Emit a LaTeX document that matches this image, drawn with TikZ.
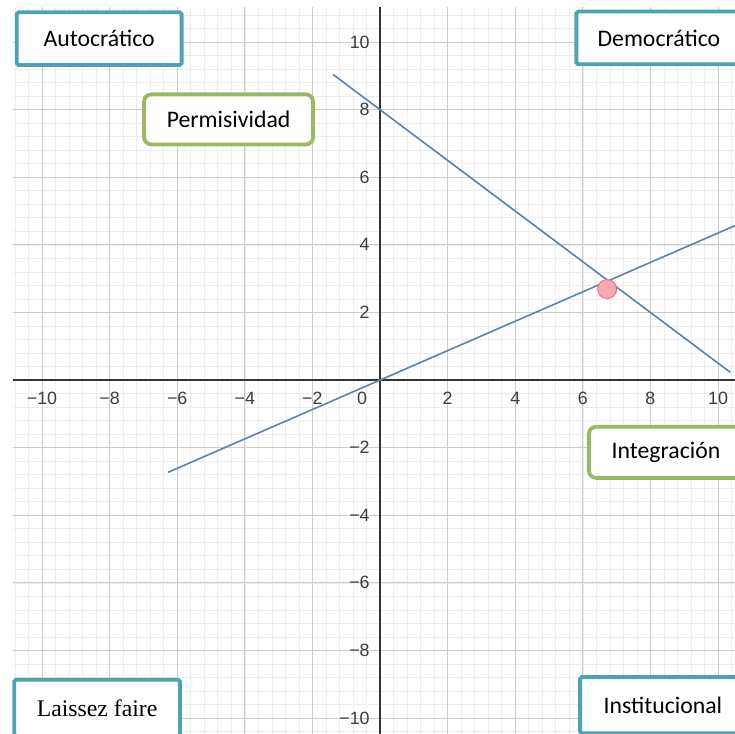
\documentclass[tikz,border=0pt]{standalone}
\usepackage{fontspec}
\setmainfont{Carlito}
\newfontfamily\serifbox{Liberation Serif}
\newfontfamily\tickfont{Liberation Sans}
\usepackage{xcolor}
\definecolor{GridMinor}{HTML}{EDEDED}
\definecolor{GridMajor}{HTML}{CDCDCD}
\definecolor{AxisInk}{HTML}{333333}
\definecolor{TickInk}{HTML}{3C3C3C}
\definecolor{CurveBlue}{HTML}{6186AC}
\definecolor{FrameTeal}{HTML}{4DA3B1}
\definecolor{FrameGreen}{HTML}{9CB862}
\definecolor{DotPink}{HTML}{F6A9AF}
\definecolor{DotRed}{HTML}{DE7682}
\usetikzlibrary{positioning}

\begin{document}
\begin{tikzpicture}[
  quad/.style={rectangle, rounded corners=1.5pt, draw=FrameTeal, line width=3.2pt, fill=white,
               minimum width=4.88cm, minimum height=1.56cm, align=center,
               font=\fontsize{20}{22}\selectfont},
  trait/.style={rectangle, rounded corners=6pt, draw=FrameGreen, line width=3.2pt, fill=white,
                minimum height=1.48cm, align=center, font=\fontsize{20}{22}\selectfont},
  curve/.style={CurveBlue, line width=1.4pt},
  xtick/.style={font=\tickfont\fontsize{15}{15}\selectfont, text=TickInk, inner sep=0pt},
  ytick/.style={xtick, anchor=east}
]

%% ---- frame of the picture ----
\useasboundingbox (-11.243,-10.473) rectangle (10.503,11.243);
\clip (-11.243,-10.473) rectangle (10.503,11.243);

%% ---- grid and axes ----
\draw[GridMinor, line width=0.5pt] (-10.86,-10.6) grid[step=0.4] (10.6,11.04);
\draw[GridMajor, line width=0.8pt] (-10.86,-10.6) grid[step=2] (10.6,11.04);
\coordinate (xl) at (-10.86,0);
\coordinate (xr) at (10.6,0);
\coordinate (yb) at (0,-10.6);
\coordinate (yt) at (0,11.04);
\draw[AxisInk, line width=1.3pt] (xl) -- (xr);
\draw[AxisInk, line width=1.3pt] (yb) -- (yt);

%% ---- tick labels ----
\foreach \k in {-10,-8,-6,-4,-2,2,4,6,8,10}{
  \pgfmathtruncatemacro\absk{abs(\k)}
  \node[xtick] (xt\k) at (\k,-0.53) {\ifnum\k<0 −\fi\absk};
  \node[ytick] (yt\k) at (-0.3,\k) {\ifnum\k<0 −\fi\absk};
}
\node[xtick] (zero) at (-0.53,-0.53) {0};

%% ---- the two lines and where they meet ----
\coordinate (fallA) at (-1.39,9.04);
\coordinate (fallB) at (10.36,0.23);
\coordinate (riseA) at (-6.27,-2.73);
\coordinate (riseB) at (10.6,4.61);
\draw[curve] (fallA) -- (fallB);
\draw[curve] (riseA) -- (riseB);
\node[circle, fill=DotPink, draw=DotRed, line width=0.8pt, minimum size=0.56cm, inner sep=0pt]
  (meet) at (6.72,2.69) {};

%% ---- corner styles (teal) ----
\node[quad] (autocratico) at (-8.31,10.10) {Autocrático};
\node[quad] (democratico) at (8.25,10.12) {Democrático};
\node[quad, minimum width=4.9cm, minimum height=1.66cm, font=\serifbox\fontsize{20}{22}\selectfont]
  (laissez) at (-8.37,-9.70) {Laissez faire};
\node[quad, minimum width=4.9cm, minimum height=1.66cm] (institucional) at (8.37,-9.62) {Institucional};

%% ---- traits (green) ----
\node[trait, minimum width=5.0cm] (permisividad) at (-4.48,7.71) {Permisividad};
\node[trait, minimum width=4.56cm, minimum height=1.51cm] (integracion) at (8.46,-2.14) {Integración};

\end{tikzpicture}
\end{document}
